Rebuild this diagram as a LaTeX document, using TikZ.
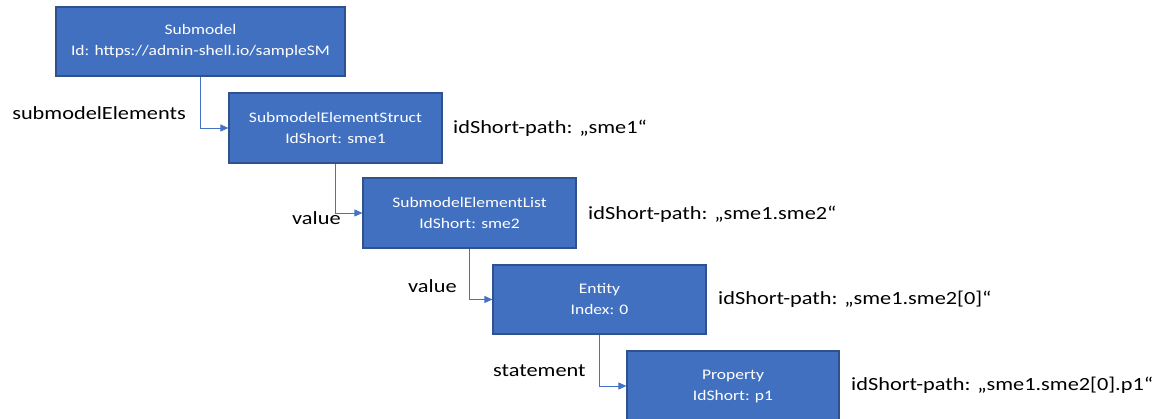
\documentclass[tikz,border=0pt]{standalone}
\usepackage{fontspec}
\setmainfont{Carlito}[FakeStretch=1.2]
\usetikzlibrary{arrows.meta}
\definecolor{boxfill}{RGB}{66,112,192}
\definecolor{boxline}{RGB}{47,82,143}
\definecolor{conn}{RGB}{68,114,196}
\tikzset{
  x=1pt, y=-1pt,
  elbox/.style={draw=boxline, line width=1.2pt, fill=boxfill, text=white, align=center,
    inner sep=0pt, font=\fontsize{14.6}{21}\selectfont},
  conn/.style={draw=conn, line width=0.8pt, -{Triangle[length=8pt,width=7pt]}},
  lbl/.style={font=\fontsize{18.6}{22}\selectfont, inner sep=0pt, text=black},
}
\begin{document}
\begin{tikzpicture}
\useasboundingbox (0,0) rectangle (1156,419);
\node[elbox, minimum width=289pt, minimum height=69pt] (sm) at (200.5,41.5) {Submodel\\Id: https://admin-shell.io/sampleSM};
\node[elbox, minimum width=213pt, minimum height=70pt] (s1) at (335.5,128) {SubmodelElementStruct\\IdShort: sme1};
\node[elbox, minimum width=213pt, minimum height=70pt] (s2) at (469.5,213) {SubmodelElementList\\IdShort: sme2};
\node[elbox, minimum width=213pt, minimum height=69pt] (en) at (599.5,299.5) {Entity\\Index: 0};
\node[elbox, minimum width=212pt, minimum height=70pt] (pr) at (733,386) {Property\\IdShort: p1};

\draw[conn] (sm.south) |- (s1.west);
\draw[conn] (s1.south) |- (s2.west);
\draw[conn] (s2.south) |- (en.west);
\draw[conn] (en.south) |- (pr.west);

\node[lbl, anchor=east] (l1) at (186,113) {submodelElements};
\node[lbl, anchor=west] (l2) at (292,218) {value};
\node[lbl, anchor=west] (l3) at (408,286) {value};
\node[lbl, anchor=west] (l4) at (493,371) {statement};

\node[lbl, anchor=west] (p1) at (453,128) {idShort-path: „sme1“};
\node[lbl, anchor=west] (p2) at (588,214) {idShort-path: „sme1.sme2“};
\node[lbl, anchor=west] (p3) at (718,299) {idShort-path: „sme1.sme2[0]“};
\node[lbl, anchor=west] (p4) at (851,385) {idShort-path: „sme1.sme2[0].p1“};
\end{tikzpicture}
\end{document}
